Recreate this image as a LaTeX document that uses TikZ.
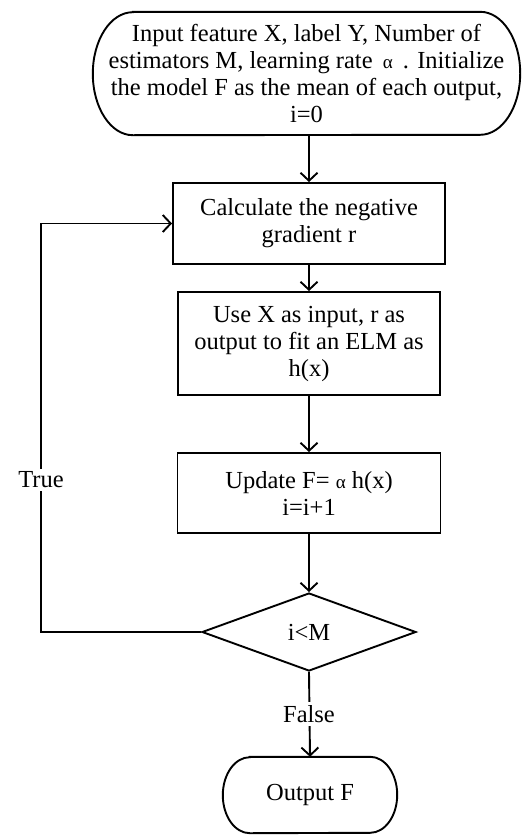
\documentclass[tikz,border=0pt]{standalone}
\usepackage{fontspec}
\setmainfont{Liberation Serif}
\usetikzlibrary{arrows.meta,shapes.geometric}
\tikzset{
  base/.style={font=\fontsize{24.5}{27}\selectfont, align=center, inner sep=0pt},
  procbox/.style={base, draw, line width=1.9pt},
  termbox/.style={base},
  decbox/.style={base, draw, line width=1.9pt, diamond},
  conn/.style={line width=1.9pt, -{Straight Barb[length=8pt,width=17pt,line width=1.9pt]}},
  outline/.style={line width=1.9pt},
  lbl/.style={base, fill=white, inner sep=3pt}
}
\newcommand{\smallalpha}{{\fontsize{19}{19}\selectfont α}}
\begin{document}
\begin{tikzpicture}[x=1pt,y=-1pt]
\useasboundingbox (0,0) rectangle (522,835);

% start terminal
\node[termbox, minimum width=427pt, minimum height=123pt] (start) at (306.5,73.5)
  {Input feature X, label Y, Number of\\
   estimators M, learning rate \,\smallalpha\, . Initialize\\
   the model F as the mean of each output,\\
   i=0};
\draw[outline] ([xshift=40pt]start.north west) -- ([xshift=-40pt]start.north east)
  arc[start angle=90, end angle=-90, x radius=40pt, y radius=61.5pt]
  -- ([xshift=40pt]start.south west)
  arc[start angle=270, end angle=90, x radius=40pt, y radius=61.5pt] -- cycle;

% process steps
\node[procbox, minimum width=272pt, minimum height=81pt] (grad) at (309,223.5)
  {Calculate the negative\\gradient r};
\node[procbox, minimum width=262pt, minimum height=103pt] (fit) at (309,343.5)
  {Use X as input, r as\\output to fit an ELM as\\h(x)};
\node[procbox, minimum width=263pt, minimum height=80pt] (upd) at (309,493)
  {Update F= \smallalpha\ h(x)\\i=i+1};

% decision
\node[decbox, minimum width=214pt, minimum height=78pt] (dec) at (309,632) {i<M};

% end terminal
\node[termbox, minimum width=174pt, minimum height=76pt] (out) at (310,795) {Output F};
\draw[outline] ([xshift=27pt]out.north west) -- ([xshift=-27pt]out.north east)
  arc[start angle=90, end angle=-90, x radius=27pt, y radius=38pt]
  -- ([xshift=27pt]out.south west)
  arc[start angle=270, end angle=90, x radius=27pt, y radius=38pt] -- cycle;

% connectors
\coordinate (loop) at (41,632);
\draw[conn] (start.south -| grad.north) -- (grad.north);
\draw[conn] (grad.south) -- (fit.north);
\draw[conn] (fit.south) -- (upd.north);
\draw[conn] (upd.south) -- (dec.north);
\draw[conn] (dec.west) -- (loop) |- (grad.west);
\node[lbl] (truelbl) at (41,480) {True};
\draw[conn] (dec.south) -- (out.north);
\node[lbl] (falselbl) at (309,714) {False};
\end{tikzpicture}
\end{document}
